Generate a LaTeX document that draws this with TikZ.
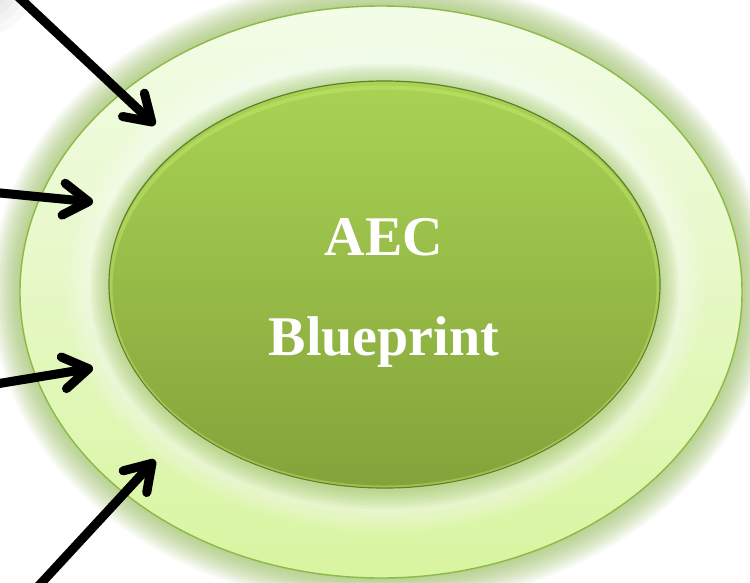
\documentclass[tikz,border=0pt]{standalone}
\usepackage{fontspec}
\setmainfont{Liberation Serif}
\usetikzlibrary{arrows.meta,shapes.geometric}
\definecolor{ringtop}{HTML}{F3FCE8}
\definecolor{ringbot}{HTML}{D8F5A0}
\definecolor{ringline}{HTML}{8CBA45}
\definecolor{glowgreen}{HTML}{8DB84A}
\definecolor{coretop}{HTML}{A9D354}
\definecolor{corebot}{HTML}{84A23A}
\definecolor{coreline}{HTML}{5F7F28}
\definecolor{rimlight}{HTML}{C9EC72}
\begin{document}
\begin{tikzpicture}[x=1pt,y=-1pt,
  arr/.style={line width=9pt, line cap=round, line join=round,
    -{Straight Barb[length=25pt,width=32pt,round]}},
  arrshadow/.style={arr, draw=black, opacity=0.2, xshift=2.5pt, yshift=-3.5pt},
  txt/.style={text=white, font=\bfseries\fontsize{56}{60}\selectfont, inner sep=0pt, anchor=base},
  ring/.style={ellipse, inner sep=0pt}]
\useasboundingbox (0,0) rectangle (750,582);
\fill[white] (0,0) rectangle (750,582);
% grey corner shade
\foreach \r in {70,62,...,14} \fill[black, opacity=0.025] (-30,-30) circle (\r pt);
% outer glow
\foreach \i [evaluate=\i as \rx using 390-2*\i, evaluate=\i as \ry using 315-2*\i] in {0,...,14}
  \fill[glowgreen, opacity=0.055] (381,292) ellipse (\rx pt and \ry pt);
\node[ring, draw=ringline, line width=1.4pt, top color=ringtop, bottom color=ringbot,
  minimum width=722pt, minimum height=572pt] (outer) at (381,292) {};
% white halo and green glow around the core
\foreach \i [evaluate=\i as \rx using 320-3*\i, evaluate=\i as \ry using 248-3*\i] in {0,...,8}
  \fill[white, opacity=0.07] (384.5,284.5) ellipse (\rx pt and \ry pt);
\foreach \i [evaluate=\i as \rx using 295-2*\i, evaluate=\i as \ry using 223-2*\i] in {0,...,9}
  \fill[glowgreen, opacity=0.06] (384.5,286.5) ellipse (\rx pt and \ry pt);
\node[ring, draw=coreline, line width=1.2pt, top color=coretop, bottom color=corebot,
  minimum width=551pt, minimum height=407pt] (inner) at (384.5,284.5) {};
\begin{scope}
  \clip (384.5,284.5) ellipse (275pt and 203pt);
  \draw[rimlight, line width=4pt, opacity=0.4] (384.5,287.5) ellipse (274pt and 200pt);
\end{scope}
\node[txt] (t1) at (384,255) {AEC};
\node[txt] (t2) at (384,355) {Blueprint};
% arrows
\coordinate (s1) at (11,-10);  \coordinate (e1) at (155,125);
\coordinate (s2) at (-10,192); \coordinate (e2) at (93,202);
\coordinate (s3) at (-10,385); \coordinate (e3) at (93,368);
\coordinate (s4) at (33,592);  \coordinate (e4) at (155,460);
\foreach \k in {1,2,3,4} \draw[arrshadow] (s\k) -- (e\k);
\foreach \k in {1,2,3,4} \draw[arr] (s\k) -- (e\k);
\end{tikzpicture}
\end{document}
